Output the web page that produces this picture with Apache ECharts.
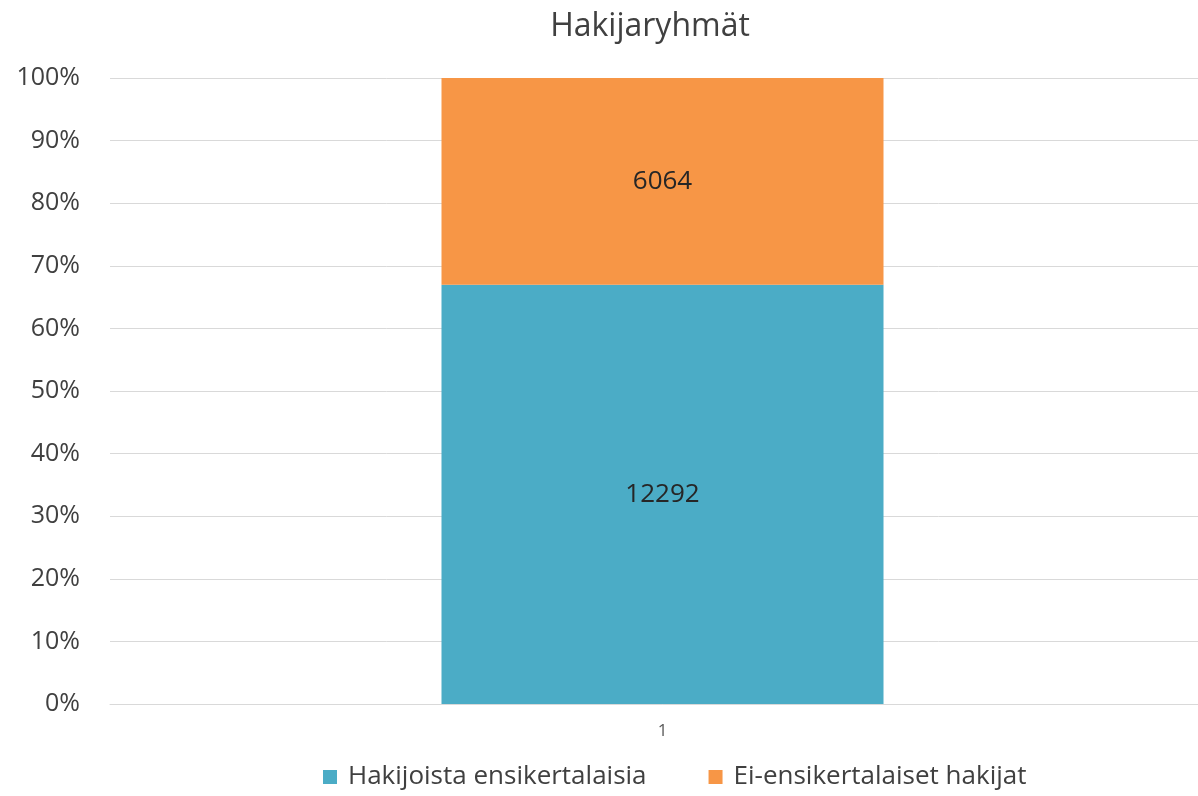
<!DOCTYPE html>
<html>
<head>
<meta charset="utf-8">
<script src="https://cdn.jsdelivr.net/npm/echarts@6/dist/echarts.min.js"></script>
<style>
  html, body { margin: 0; padding: 0; background: #fff; overflow: hidden; }
  #chart { width: 1215px; height: 796px; }
</style>
</head>
<body>
<div id="chart"></div>
<script>
var categories = ['1'];
var seriesNames = ['Hakijoista ensikertalaisia', 'Ei-ensikertalaiset hakijat'];
var firstTimers = [12292];   // ensikertalaiset
var others = [6064];         // ei-ensikertalaiset
var colors = ['#4BACC6', '#F79646'];

// prosenttiosuudet pinottuun 100% pylvääseen
function share(arr) {
    return arr.map(function (v, i) {
        var total = firstTimers[i] + others[i];
        return { value: v / total * 100, raw: v };
    });
}

var chart = echarts.init(document.getElementById('chart'));
var font = '"Open Sans", "Noto Sans", sans-serif';

var option = {
    animation: false,
    title: {
        text: 'Hakijaryhmät',
        left: 645,
        top: 6,
        textAlign: 'center',
        textStyle: { fontFamily: font, fontSize: 32, fontWeight: 'normal', color: '#404040' }
    },
    legend: {
        bottom: 1,
        left: 318,
        itemWidth: 14,
        itemHeight: 14,
        itemGap: 62,
        icon: 'rect',
        textStyle: { fontFamily: font, fontSize: 26, color: '#404040', padding: [0, 0, 0, 6] },
        data: seriesNames
    },
    grid: {
        left: 110,
        right: 0,
        top: 78,
        bottom: 92
    },
    xAxis: {
        type: 'category',
        data: categories,
        axisTick: { show: false },
        axisLine: { lineStyle: { color: '#d9d9d9' } },
        axisLabel: { fontFamily: font, fontSize: 17, color: '#595959', margin: 19 }
    },
    yAxis: {
        type: 'value',
        min: 0,
        max: 100,
        interval: 10,
        axisLabel: {
            fontFamily: font, fontSize: 25, color: '#404040', margin: 30,
            formatter: '{value}%'
        },
        splitLine: { lineStyle: { color: '#d9d9d9' } }
    },
    series: [
        {
            name: seriesNames[0],
            type: 'bar',
            stack: 'total',
            barWidth: '40%',
            itemStyle: { color: colors[0] },
            label: {
                show: true, position: 'inside',
                fontFamily: font, fontSize: 26, color: '#262626',
                formatter: function (p) { return p.data.raw; }
            },
            data: share(firstTimers)
        },
        {
            name: seriesNames[1],
            type: 'bar',
            stack: 'total',
            barWidth: '40%',
            itemStyle: { color: colors[1] },
            label: {
                show: true, position: 'inside',
                fontFamily: font, fontSize: 26, color: '#262626',
                formatter: function (p) { return p.data.raw; }
            },
            data: share(others)
        }
    ]
};
chart.setOption(option);
</script>
</body>
</html>
